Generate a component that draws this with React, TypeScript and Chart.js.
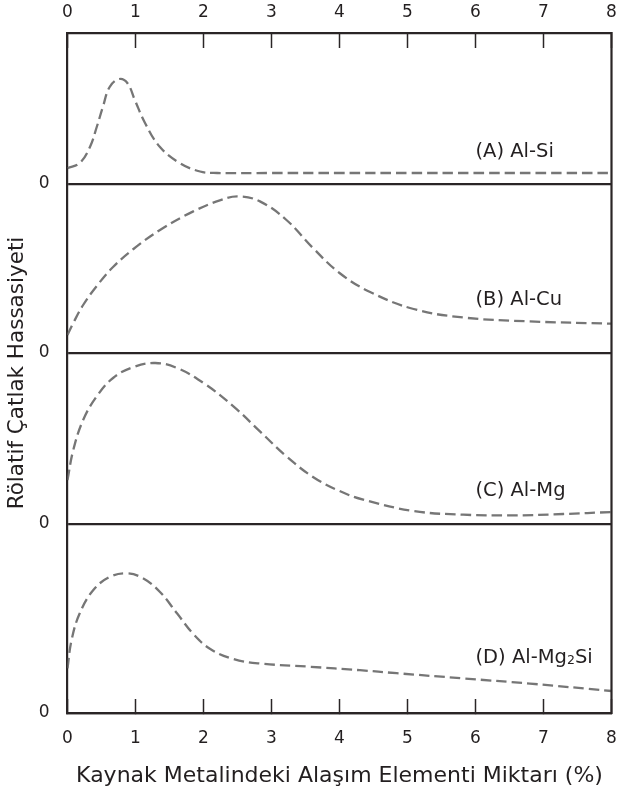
import React, { useEffect, useRef } from 'react';
import { Chart, registerables } from 'chart.js';

Chart.register(...registerables);

// ---- data (relative crack sensitivity, arbitrary units) ----
const xTickValues = [0, 1, 2, 3, 4, 5, 6, 7, 8];
const panelNames = ['(A) Al-Si', '(B) Al-Cu', '(C) Al-Mg', '(D) Al-Mg2Si'];
const xTitle = 'Kaynak Metalindeki Alaşım Elementi Miktarı (%)';
const yTitle = 'Rölatif Çatlak Hassasiyeti';

const alSiX = [0, 0.18, 0.33, 0.43, 0.52, 0.62, 0.76, 0.88, 0.99, 1.14, 1.36, 1.65, 1.95, 2.2, 3, 4, 5, 6, 7, 8];
const alSiY = [15.7, 21, 37, 57, 77, 97, 105, 101, 84, 61, 37, 21, 12.5, 11, 11, 11, 11, 11, 11, 11];

const alCuX = [0, 0.085, 0.23, 0.43, 0.67, 0.97, 1.36, 1.85, 2.24, 2.51, 2.83, 3.22, 3.61, 4.0, 4.45, 5.09, 5.82, 6.8, 8];
const alCuY = [18, 30, 48, 67, 86, 104, 123, 141.6, 152.6, 156.6, 151.6, 133, 105, 80, 61, 44, 35.5, 31.6, 29.3];

const alMgX = [0, 0.085, 0.23, 0.43, 0.67, 0.97, 1.29, 1.61, 2.0, 2.44, 2.83, 3.22, 3.61, 4.0, 4.35, 5.09, 5.82, 6.56, 7.29, 8];
const alMgY = [44, 74, 104, 127.6, 146, 157, 161, 156, 141, 117.6, 92.6, 67.6, 47, 33, 24.3, 13, 9.3, 8.6, 10, 12];

const alMg2SiX = [0, 0.06, 0.18, 0.38, 0.62, 0.87, 1.11, 1.36, 1.61, 1.85, 2.1, 2.44, 2.83, 3.56, 4.3, 4.84, 5.82, 6.8, 8];
const alMg2SiY = [44.7, 73, 99.7, 123, 136, 139.7, 134.7, 121, 99.7, 79, 64, 54, 49.5, 46.3, 42.8, 39.8, 34.6, 29.4, 22];

const panelMax = [151, 169, 171, 189];

// ---- styles ----
const FONT = '"DejaVu Sans", Verdana, sans-serif';
const axisColor = '#2a2526';
const textColor = '#231f20';
const curveColor = '#767676';
const panelIds = ['yA', 'yB', 'yC', 'yD'];
const labelAnchorX = 6.0;
const labelAnchorY = [27, 48, 27.6, 50];

const toPoints = (xs: number[], ys: number[]) => xs.map((x, i) => ({ x, y: ys[i] }));

const annotatePlugin = {
  id: 'annotate',
  afterDraw(chart: any) {
    const { ctx, chartArea, scales } = chart;
    ctx.save();
    // right frame edge
    ctx.strokeStyle = axisColor;
    ctx.lineWidth = 2.2;
    ctx.beginPath();
    ctx.moveTo(chartArea.right, chartArea.top - 1.1);
    ctx.lineTo(chartArea.right, chartArea.bottom + 1.1);
    ctx.stroke();

    // y-axis title
    ctx.fillStyle = textColor;
    ctx.font = `21.5px ${FONT}`;
    ctx.save();
    ctx.translate(23, (chartArea.top + chartArea.bottom) / 2);
    ctx.rotate(-Math.PI / 2);
    ctx.textAlign = 'center';
    ctx.textBaseline = 'alphabetic';
    ctx.fillText(yTitle, 0, 0);
    ctx.restore();

    // panel labels (digits drawn as subscripts)
    ctx.textAlign = 'left';
    ctx.textBaseline = 'alphabetic';
    panelIds.forEach((id, i) => {
      const ys = scales[id];
      let px = scales.x.getPixelForValue(labelAnchorX);
      const py = ys.getPixelForValue(labelAnchorY[i]);
      const parts = panelNames[i].split(/(\d+)/).filter((s) => s.length);
      parts.forEach((p) => {
        const sub = /^\d+$/.test(p);
        ctx.font = sub ? `12.5px ${FONT}` : `19.5px ${FONT}`;
        ctx.fillText(p, px, py + (sub ? 1 : 0));
        px += ctx.measureText(p).width;
      });
    });
    ctx.restore();
  },
};

const noPad = (s: any) => {
  s.paddingLeft = 0;
  s.paddingRight = 0;
  s.paddingTop = 0;
  s.paddingBottom = 0;
};

function makeYScale(i: number) {
  return {
    type: 'linear',
    position: 'left',
    stack: 'panels',
    stackWeight: panelMax[i],
    weight: 4 - i,
    min: 0,
    max: panelMax[i],
    afterBuildTicks: (s: any) => {
      s.ticks = [{ value: 0 }];
    },
    afterFit: (s: any) => {
      s.width = 67.5;
      noPad(s);
    },
    ticks: {
      color: textColor,
      font: { family: FONT, size: 17 },
      padding: 18,
    },
    grid: {
      drawTicks: false,
      color: axisColor,
      lineWidth: 2.2,
    },
    border: { display: true, color: axisColor, width: 2.2 },
  };
}

export default function App() {
  const canvasRef = useRef<HTMLCanvasElement | null>(null);

  useEffect(() => {
    if (!canvasRef.current) return;
    const series = [
      toPoints(alSiX, alSiY),
      toPoints(alCuX, alCuY),
      toPoints(alMgX, alMgY),
      toPoints(alMg2SiX, alMg2SiY),
    ];
    const chart = new Chart(canvasRef.current, {
      type: 'line',
      data: {
        datasets: series.map((data, i) => ({
          label: panelNames[i],
          data,
          xAxisID: 'x',
          yAxisID: panelIds[i],
          borderColor: curveColor,
          borderWidth: 2.3,
          borderDash: [10.5, 5],
          pointRadius: 0,
          fill: false,
          tension: 0.4,
        })),
      },
      options: {
        animation: false,
        responsive: false,
        events: [],
        layout: { padding: { left: 0, right: 7.5, top: 0, bottom: 0 } },
        plugins: {
          legend: { display: false },
          tooltip: { enabled: false },
        },
        scales: {
          x: {
            type: 'linear',
            position: 'bottom',
            min: 0,
            max: 8,
            afterBuildTicks: (s: any) => {
              s.ticks = xTickValues.map((v) => ({ value: v }));
            },
            afterFit: (s: any) => {
              s.height = 81;
              noPad(s);
            },
            ticks: {
              color: textColor,
              font: { family: FONT, size: 17 },
              padding: 29.7,
              maxRotation: 0,
              autoSkip: false,
            },
            grid: {
              drawOnChartArea: false,
              tickLength: -14,
              tickWidth: 1.5,
              tickColor: axisColor,
            },
            border: { display: true, color: axisColor, width: 2.2 },
            title: {
              display: true,
              text: xTitle,
              color: textColor,
              font: { family: FONT, size: 22 },
              padding: { top: 0, bottom: 4.5 },
            },
          },
          xTop: {
            type: 'linear',
            position: 'top',
            min: 0,
            max: 8,
            afterBuildTicks: (s: any) => {
              s.ticks = xTickValues.map((v) => ({ value: v }));
            },
            afterFit: (s: any) => {
              s.height = 33;
              noPad(s);
            },
            ticks: {
              color: textColor,
              font: { family: FONT, size: 17 },
              padding: 25,
              maxRotation: 0,
              autoSkip: false,
            },
            grid: {
              drawOnChartArea: false,
              tickLength: -15,
              tickWidth: 1.5,
              tickColor: axisColor,
            },
            border: { display: true, color: axisColor, width: 2.2 },
          },
          yA: makeYScale(0),
          yB: makeYScale(1),
          yC: makeYScale(2),
          yD: makeYScale(3),
        } as any,
      },
      plugins: [annotatePlugin],
    } as any);
    return () => chart.destroy();
  }, []);

  return (
    <div style={{ position: 'absolute', left: 0, top: 0, width: 619, height: 794, background: '#fff' }}>
      <canvas ref={canvasRef} width={619} height={794} style={{ width: 619, height: 794, display: 'block' }} />
    </div>
  );
}
